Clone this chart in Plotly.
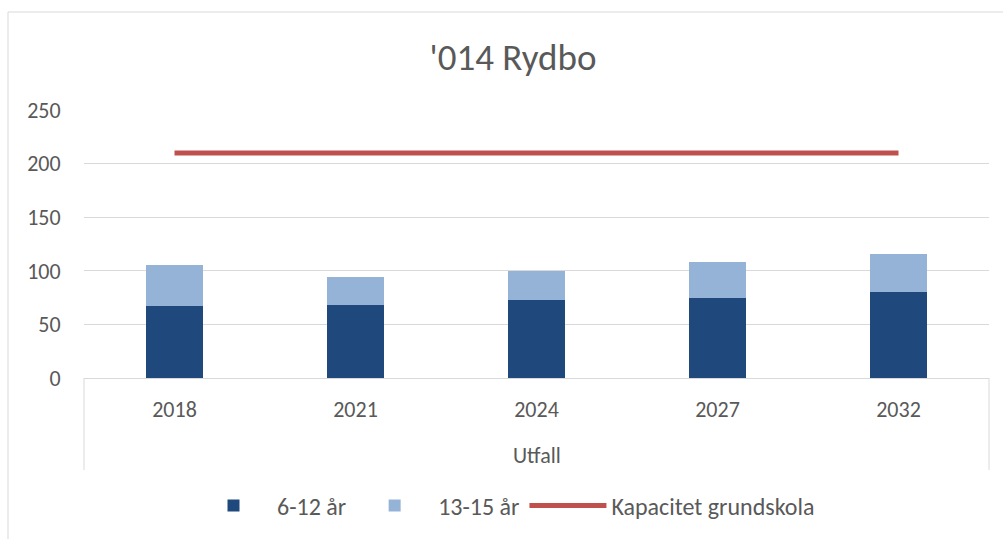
import plotly.graph_objects as go

years = ["2018", "2021", "2024", "2027", "2032"]
group_label = "Utfall"
age_6_12 = [67, 68, 73, 75, 80]
age_13_15 = [38, 26, 27, 33, 36]
capacity = [210, 210, 210, 210, 210]
y_ticks = [0, 50, 100, 150, 200, 250]

FONT = "Carlito, Calibri, Lato, sans-serif"
TXT = "#595959"
GRID = "#d9d9d9"

fig = go.Figure()
fig.add_trace(go.Bar(x=years, y=age_6_12, name="6-12 år",
                     marker=dict(color="#1f497d", line=dict(width=0))))
fig.add_trace(go.Bar(x=years, y=age_13_15, name="13-15 år",
                     marker=dict(color="#95b3d7", line=dict(width=0))))
fig.add_trace(go.Scatter(x=years, y=capacity, name="Kapacitet grundskola",
                         mode="lines", line=dict(color="#c0504d", width=5)))

W, H = 1003, 539
L, R, T, B = 84, 14, 110, 161
PW, PH = W - L - R, H - T - B


def px_x(p):
    return (p - L) / PW


def px_y(p):
    return (H - B - p) / PH


fig.update_layout(
    width=W, height=H,
    barmode="stack", bargap=0.685,
    paper_bgcolor="white", plot_bgcolor="white",
    margin=dict(l=L, r=R, t=T, b=B),
    font=dict(family=FONT, color=TXT, size=22),
    title=dict(text="'014 Rydbo", x=513 / W, xanchor="center", xref="container",
               y=1 - 57 / H, yanchor="middle", yref="container",
               font=dict(size=37, color=TXT, family=FONT)),
    legend=dict(orientation="h", x=505 / W, xanchor="center", xref="container",
                y=1 - 506 / H, yanchor="middle", yref="container",
                font=dict(size=24, color=TXT), itemwidth=77, traceorder="normal"),
    showlegend=True,
)
fig.update_yaxes(range=[0, 250], tickvals=y_ticks, showgrid=True,
                 gridcolor=GRID, gridwidth=1, zeroline=False,
                 showline=False, ticks="outside", ticklen=0,
                 ticklabelstandoff=18, tickfont=dict(size=22, color=TXT))
fig.update_xaxes(type="category", showline=True, linecolor=GRID,
                 linewidth=1, ticks="", ticklabelstandoff=12,
                 tickfont=dict(size=22, color=TXT), showgrid=False)

# category-group label and its dividers
fig.add_annotation(text=group_label, xref="paper", yref="paper",
                   x=0.5, y=px_y(455), xanchor="center", yanchor="middle",
                   showarrow=False, font=dict(size=22, color=TXT))
for xp in (0, 1):
    fig.add_shape(type="line", xref="paper", yref="paper",
                  x0=xp, x1=xp, y0=0, y1=px_y(470),
                  line=dict(color=GRID, width=1))

# outer chart-area border
fig.add_shape(type="rect", xref="paper", yref="paper",
              x0=px_x(8), x1=px_x(1010), y0=px_y(545), y1=px_y(12),
              line=dict(color=GRID, width=1), layer="below")

fig.write_html("out.html", config={"displayModeBar": False},
               post_script="document.body.style.margin='0';")
